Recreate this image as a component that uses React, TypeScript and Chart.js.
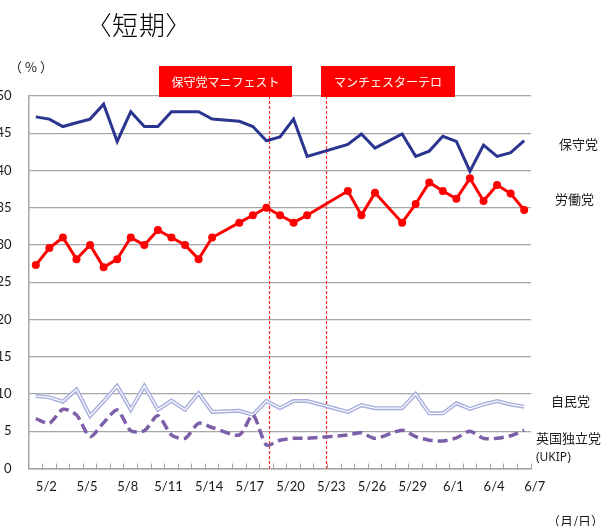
import React, { useEffect, useRef } from 'react';
import { Chart, registerables } from 'chart.js';

Chart.register(...registerables);

// ---- data ----
const dates = [
  '5/1', '5/2', '5/3', '5/4', '5/5', '5/6', '5/7', '5/8', '5/9', '5/10',
  '5/11', '5/12', '5/13', '5/14', '5/15', '5/16', '5/17', '5/18', '5/19', '5/20',
  '5/21', '5/22', '5/23', '5/24', '5/25', '5/26', '5/27', '5/28', '5/29', '5/30',
  '5/31', '6/1', '6/2', '6/3', '6/4', '6/5', '6/6', '6/7',
];
const xTickLabels = ['5/2', '5/5', '5/8', '5/11', '5/14', '5/17', '5/20', '5/23', '5/26', '5/29', '6/1', '6/4', '6/7'];
const lastDataDate = '6/6';

const conservative = [
  47.2, 46.9, 45.9, 46.4, 46.9, 48.9, 43.9, 47.9, 45.9, 45.9,
  47.9, 47.9, 47.9, 46.9, null, 46.6, 45.9, 44.0, 44.5, 46.9,
  41.9, null, null, 43.5, 44.9, 43.0, null, 44.9, 41.9, 42.6,
  44.6, 43.9, 39.9, 43.4, 41.9, 42.4, 44.0,
];
const labour = [
  27.3, 29.6, 31.0, 28.1, 30.0, 27.0, 28.1, 31.0, 30.0, 32.0,
  31.0, 30.0, 28.1, 31.0, null, 33.0, 34.0, 35.0, 34.0, 33.0,
  34.0, null, null, 37.25, 34.0, 37.0, null, 33.0, 35.5, 38.4,
  37.25, 36.2, 38.95, 35.9, 38.05, 36.9, 34.7,
];
const libDem = [
  9.73, 9.55, 8.97, 10.6, 7.05, 9.0, 11.07, 7.9, 11.07, 7.9,
  9.1, 7.9, 10.1, 7.6, null, 7.75, 7.2, 9.06, 8.1, 9.06,
  9.06, null, null, 7.6, 8.5, 8.1, null, 8.1, 10.0, 7.4,
  7.4, 8.75, 8.0, 8.6, 9.06, 8.6, 8.3,
];
const ukip = [
  6.7, 6.07, 7.95, 7.2, 4.27, 6.15, 7.85, 5.07, 5.07, 7.1,
  4.5, 4.05, 6.07, 5.5, null, 4.5, 7.2, 3.15, 3.8, 4.05,
  4.05, null, null, 4.5, 4.8, 4.05, null, 5.15, 4.27, 3.8,
  3.7, 4.1, 5.0, 4.05, 4.05, 4.4, 5.15,
];

// events (position in days from 5/1, fractional)
const eventPositions = [17.2, 21.4];
const eventLabels = ['保守党マニフェスト', 'マンチェスターテロ'];

const seriesNames = ['保守党', '労働党', '自民党', '英国独立党'];

const toPoints = (arr: (number | null)[]) =>
  arr.map((y, i) => ({ x: i, y })).filter((p) => p.y !== null);

const CJK = '"Noto Sans CJK JP", "Noto Sans", sans-serif';

const eventLinePlugin = {
  id: 'eventLines',
  beforeDatasetsDraw(chart: any) {
    const { ctx, chartArea, scales } = chart;
    const x = scales.x;
    ctx.save();
    ctx.strokeStyle = '#ff2a2a';
    ctx.lineWidth = 1.2;
    ctx.setLineDash([3, 2]);
    eventPositions.forEach((v) => {
      const px = Math.round(x.getPixelForValue(v)) + 0.5;
      ctx.beginPath();
      ctx.moveTo(px, chartArea.top);
      ctx.lineTo(px, chartArea.bottom);
      ctx.stroke();
    });
    ctx.restore();
  },
};

export default function App() {
  const ref = useRef<HTMLCanvasElement | null>(null);

  useEffect(() => {
    if (!ref.current) return;
    Chart.defaults.font.family = 'Lato, "Open Sans", sans-serif';
    const lastIndex = dates.indexOf(lastDataDate);
    const chart = new Chart(ref.current, {
      type: 'line',
      data: {
        datasets: [
          {
            label: seriesNames[1],
            data: toPoints(labour),
            borderColor: '#ff0000',
            backgroundColor: '#ff0000',
            borderWidth: 3,
            pointRadius: 4,
            pointBorderWidth: 0,
            pointBackgroundColor: '#ff0000',
            spanGaps: true,
            order: 1,
          },
          {
            label: seriesNames[0],
            data: toPoints(conservative),
            borderColor: '#2b3590',
            borderWidth: 3,
            pointRadius: 0,
            spanGaps: true,
            order: 2,
          },
          {
            label: seriesNames[3],
            data: toPoints(ukip),
            borderColor: '#7c5fa8',
            borderWidth: 3.5,
            borderDash: [10, 5],
            pointRadius: 0,
            tension: 0.25,
            spanGaps: true,
            order: 3,
          },
          {
            label: seriesNames[2],
            data: toPoints(libDem),
            borderColor: '#ffffff',
            borderWidth: 1.2,
            pointRadius: 0,
            spanGaps: true,
            order: 4,
          },
          {
            label: seriesNames[2] + ' outline',
            data: toPoints(libDem),
            borderColor: '#a7aedd',
            borderWidth: 4,
            pointRadius: 0,
            spanGaps: true,
            order: 5,
          },
        ],
      },
      options: {
        responsive: false,
        animation: false,
        layout: { padding: { top: 96, right: 75, left: 0, bottom: 0 } },
        plugins: { legend: { display: false }, tooltip: { enabled: false }, title: { display: false } },
        scales: {
          x: {
            type: 'linear',
            min: -0.5,
            max: lastIndex + 0.5,
            afterBuildTicks: (s: any) => {
              s.ticks = dates.map((_, i) => ({ value: i }));
            },
            afterFit: (s: any) => {
              s.height = 57.5;
            },
            grid: {
              display: true,
              drawOnChartArea: false,
              drawTicks: true,
              tickLength: -5,
              offset: true,
              color: '#a6a6a6',
              lineWidth: 1,
            },
            border: { display: true, color: '#a6a6a6', width: 1.5 },
            ticks: {
              autoSkip: false,
              maxRotation: 0,
              padding: 16,
              labelOffset: -3,
              color: '#1a1a1a',
              font: { size: 13 },
              callback: (_v: any, i: number) => (xTickLabels.includes(dates[i]) ? dates[i] : ''),
            },
          },
          y: {
            min: 0,
            max: 50,
            afterFit: (s: any) => {
              s.width = 29;
            },
            grid: { color: '#a6a6a6', lineWidth: 1.3, drawTicks: false },
            border: { display: true, color: '#a6a6a6', width: 1.5 },
            ticks: { stepSize: 5, padding: 17.5, color: '#1a1a1a', font: { size: 13 } },
          },
        },
      },
      plugins: [eventLinePlugin],
    } as any);
    return () => chart.destroy();
  }, []);

  const labelStyle = (left: number, top: number, size = 13): React.CSSProperties => ({
    position: 'absolute',
    left,
    top,
    fontSize: size,
    lineHeight: 1,
    fontFamily: CJK,
    color: '#1a1a1a',
    whiteSpace: 'nowrap',
  });

  const boxStyle = (left: number, width: number): React.CSSProperties => ({
    position: 'absolute',
    left,
    top: 66,
    width,
    height: 31,
    background: '#ff0000',
    color: '#ffffff',
    fontFamily: CJK,
    fontSize: 12,
    lineHeight: '31px',
    textAlign: 'center',
    whiteSpace: 'nowrap',
  });

  return (
    <div style={{ position: 'fixed', left: 0, top: 0, width: 606, height: 526, overflow: 'hidden', background: '#fff' }}>
      <canvas ref={ref} width={606} height={526} style={{ position: 'absolute', left: 0, top: 0, width: 606, height: 526 }} />
      <div style={{ ...labelStyle(98, 11, 26), fontFeatureSettings: '"palt"', color: '#000', fontWeight: 300, letterSpacing: 1 }}>〈短期〉</div>
      <div style={{ ...labelStyle(9, 60, 13), letterSpacing: 3 }}>（%）</div>
      <div style={boxStyle(159, 133)}>{eventLabels[0]}</div>
      <div style={boxStyle(321, 134)}>{eventLabels[1]}</div>
      <div style={labelStyle(559, 137)}>{seriesNames[0]}</div>
      <div style={labelStyle(555, 192)}>{seriesNames[1]}</div>
      <div style={labelStyle(551, 394)}>{seriesNames[2]}</div>
      <div style={labelStyle(536, 431)}>{seriesNames[3]}</div>
      <div style={{ ...labelStyle(536, 451, 12), fontFamily: '"Noto Sans", sans-serif' }}>(UKIP)</div>
      <div style={labelStyle(547, 514, 13)}>（月/日）</div>
    </div>
  );
}
